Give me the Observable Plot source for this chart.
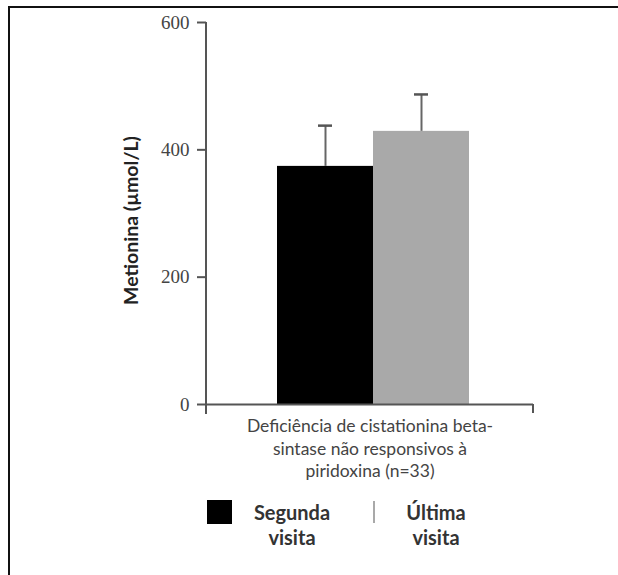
<!DOCTYPE html>
<html>
<head>
<meta charset="utf-8">
<script src="https://cdn.jsdelivr.net/npm/d3@7"></script>
<script src="https://cdn.jsdelivr.net/npm/@observablehq/plot@0.6"></script>
<style>
  html, body { margin: 0; padding: 0; background: #fff; }
  #page { position: relative; width: 618px; height: 575px; overflow: hidden; background: #fff; }
  #frame { position: absolute; left: 8px; top: 6px; right: -4px; bottom: -4px; border-top: 2px solid #111; border-left: 2px solid #111; }
  #chart { position: absolute; left: 0; top: 0; }
  #legend { position: absolute; left: 0; top: 498px; width: 618px; height: 60px; font-family: Lato, "Open Sans", sans-serif; font-weight: bold; color: #333; }
  .sw { position: absolute; }
  .lab { position: absolute; text-align: center; font-size: 20px; line-height: 25px; width: 140px; }
</style>
</head>
<body>
<div id="page">
  <div id="frame"></div>
  <div id="chart"></div>
  <div id="legend"></div>
</div>
<script>
const visits = ["Segunda visita", "Última visita"];
const means = [374, 429];
const errors = [64, 58];
const barColors = ["#000000", "#a9a9a9"];
const yTicks = [0, 200, 400, 600];
const xLabel = "Deficiência de cistationina beta-\nsintase não responsivos à\npiridoxina (n=33)";
const yLabel = "Metionina (µmol/L)";
const legendLabels = ["Segunda\nvisita", "Última\nvisita"];

const data = visits.map((v, i) => ({visit: v, mean: means[i], top: means[i] + errors[i]}));

const axisFrame = (index, scales, values, dims) => {
  const g = d3.create("svg:g").attr("stroke", "#555").attr("stroke-width", 2);
  const x0 = dims.marginLeft, x1 = dims.width - dims.marginRight;
  const y0 = scales.y(0);
  g.append("line").attr("x1", x0).attr("x2", x0).attr("y1", scales.y(600)).attr("y2", y0 + 10);
  g.append("line").attr("x1", x1).attr("x2", x1).attr("y1", y0).attr("y2", y0 + 9);
  return g.node();
};

const chart = Plot.plot({
  width: 618,
  height: 492,
  marginLeft: 206,
  marginRight: 85,
  marginTop: 22,
  marginBottom: 88,
  style: {background: "transparent", overflow: "visible"},
  x: {domain: visits, range: [277, 469], padding: 0, axis: null},
  y: {domain: [0, 600], axis: null},
  color: {domain: visits, range: barColors},
  marks: [
    Plot.barY(data, {x: "visit", y: "mean", fill: "visit"}),
    Plot.ruleX(data, {x: "visit", y1: "mean", y2: "top", stroke: "#666", strokeWidth: 2}),
    Plot.tickY(data, {x: "visit", y: "top", stroke: "#555", strokeWidth: 2.5, insetLeft: 41, insetRight: 41}),
    Plot.ruleY([0], {stroke: "#555", strokeWidth: 2}),
    axisFrame,
    Plot.axisY({ticks: yTicks, tickSize: 9, tickPadding: 8, stroke: "#555", strokeWidth: 2, label: null,
      fontFamily: "'Liberation Serif', 'DejaVu Serif', serif", fontSize: 19, fill: "#444", tickFormat: d => String(d)}),
    Plot.text([xLabel], {frameAnchor: "bottom", lineAnchor: "top", dy: 12, lineHeight: 1.27,
      fontFamily: "Lato, 'Open Sans', sans-serif", fontSize: 17.5, fill: "#444"}),
    Plot.text([yLabel], {frameAnchor: "left", textAnchor: "middle", rotate: -90, dx: -75, dy: 7,
      fontFamily: "Lato, 'Open Sans', sans-serif", fontSize: 19.5, fontWeight: "bold", fill: "#222"})
  ]
});
document.getElementById("chart").appendChild(chart);

// legend
const legend = document.getElementById("legend");
const swatchLeft = [207, 373];
const labelCenter = [292, 436];
visits.forEach((v, i) => {
  const sw = document.createElement("div");
  sw.className = "sw";
  if (i === 0) {
    Object.assign(sw.style, {left: swatchLeft[i] + "px", top: "2px", width: "25px", height: "24px", background: barColors[i]});
  } else {
    Object.assign(sw.style, {left: swatchLeft[i] + "px", top: "3px", width: "2px", height: "22px", background: barColors[i]});
  }
  legend.appendChild(sw);
  const lab = document.createElement("div");
  lab.className = "lab";
  lab.style.left = (labelCenter[i] - 70) + "px";
  lab.style.top = "2px";
  lab.innerHTML = legendLabels[i].replace("\n", "<br>");
  legend.appendChild(lab);
});
</script>
</body>
</html>
